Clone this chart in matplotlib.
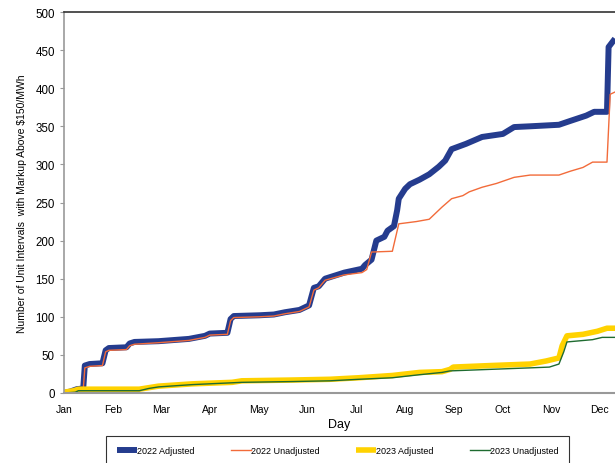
import matplotlib
matplotlib.use("Agg")
import matplotlib.pyplot as plt

plt.rcParams['font.family'] = ['Liberation Sans', 'DejaVu Sans']

# Day-of-year (x) and cumulative count (y)
adj22_day = [0, 4, 8, 12, 13, 16, 24, 26, 28, 39, 41, 44, 59, 78, 88, 91, 102, 104, 106, 122, 131,
             138, 147, 153, 156, 159, 163, 175, 186, 188, 192, 195, 200, 202, 206, 208, 209, 213,
             216, 222, 228, 234, 238, 242, 251, 261, 274, 281, 291, 309, 316, 326, 331, 339, 340, 344]
adj22_val = [0, 2, 5, 6, 36, 38, 39, 56, 59, 60, 65, 67, 68, 71, 75, 78, 79, 97, 101, 102, 103,
             106, 109, 115, 138, 140, 150, 158, 163, 168, 175, 200, 205, 213, 219, 240, 255, 268,
             274, 280, 287, 297, 305, 320, 327, 336, 340, 349, 350, 352, 357, 364, 369, 369, 454, 465]

unadj22_day = [0, 4, 8, 12, 13, 16, 24, 26, 28, 39, 41, 44, 59, 78, 88, 91, 102, 104, 106, 122, 131,
               138, 147, 153, 156, 159, 163, 175, 186, 189, 192, 205, 209, 220, 228, 236, 242, 249,
               253, 261, 270, 281, 291, 309, 316, 324, 330, 339, 341, 344]
unadj22_val = [0, 1, 3, 4, 33, 35, 36, 54, 56, 57, 62, 64, 66, 69, 73, 76, 77, 95, 99, 100, 101,
               104, 107, 113, 135, 138, 148, 155, 158, 162, 185, 186, 222, 225, 228, 244, 255, 259,
               264, 270, 275, 283, 286, 286, 291, 296, 303, 303, 392, 395]

adj23_day = [0, 6, 9, 47, 53, 59, 80, 105, 111, 142, 166, 184, 205, 222, 236, 241, 243, 266, 291,
             301, 309, 311, 314, 324, 333, 339, 344]
adj23_val = [1, 3, 5, 5, 7, 9, 12, 14, 16, 17, 18, 20, 23, 27, 28, 31, 34, 36, 38,
             42, 46, 62, 75, 77, 81, 85, 85]

unadj23_day = [0, 7, 9, 47, 53, 59, 80, 111, 142, 166, 184, 205, 222, 236, 241, 266, 291, 303, 309,
               312, 314, 330, 336, 344]
unadj23_val = [0, 1, 3, 3, 6, 8, 11, 14, 15, 16, 18, 20, 24, 27, 29, 31, 33, 34, 38,
               54, 67, 70, 73, 73]

month_labels = ['Jan', 'Feb', 'Mar', 'Apr', 'May', 'Jun', 'Jul', 'Aug', 'Sep', 'Oct', 'Nov', 'Dec']
month_days = [i * 365 / 12 for i in range(len(month_labels))]
y_ticks = [0, 50, 100, 150, 200, 250, 300, 350, 400, 450, 500]

fig = plt.figure(figsize=(6.15, 4.64), dpi=100)
ax = fig.add_axes([64/615, 70/464, 1 - 64/615, (394 - 13)/464])

l1, = ax.plot(adj22_day, adj22_val, color='#253C8E', lw=4.3, solid_capstyle='butt', label='2022 Adjusted')
l2, = ax.plot(unadj22_day, unadj22_val, color='#F26B3A', lw=1.0, label='2022 Unadjusted')
l3, = ax.plot(adj23_day, adj23_val, color='#FFD200', lw=4.0, solid_capstyle='butt', label='2023 Adjusted')
l4, = ax.plot(unadj23_day, unadj23_val, color='#1E6B30', lw=1.0, label='2023 Unadjusted')

ax.set_xlim(0, 344)
ax.set_ylim(0, 500)
ax.set_yticks(y_ticks)
ax.set_xticks(month_days)
ax.set_xticklabels(month_labels)
ax.tick_params(axis='x', length=0, labelsize=7.5, pad=8)
ax.tick_params(axis='y', length=3, direction='out', color='#999999', labelsize=8.3)

ax.spines['right'].set_visible(False)
ax.spines['top'].set_color('#333333')
ax.spines['top'].set_linewidth(1.2)
ax.spines['left'].set_color('#999999')
ax.spines['left'].set_linewidth(1.2)
ax.spines['bottom'].set_color('#999999')
ax.spines['bottom'].set_linewidth(1.5)

ax.set_xlabel('Day', fontsize=9, labelpad=3)
ax.set_ylabel('Number of Unit Intervals  with Markup Above $150/MWh', fontsize=7.5, labelpad=6)

leg = fig.legend(handles=[l1, l2, l3, l4], loc='upper left',
                 bbox_to_anchor=(106/615, 1 - 437/464, (569 - 106)/615, 0.001),
                 mode='expand', ncol=4, fontsize=6.5, frameon=True, fancybox=False,
                 handlelength=2.2, handletextpad=0.0, borderpad=1.2, columnspacing=1.0,
                 borderaxespad=0)
leg.get_frame().set_edgecolor('#000000')
leg.get_frame().set_linewidth(0.8)

fig.savefig('out.png', dpi=100)
